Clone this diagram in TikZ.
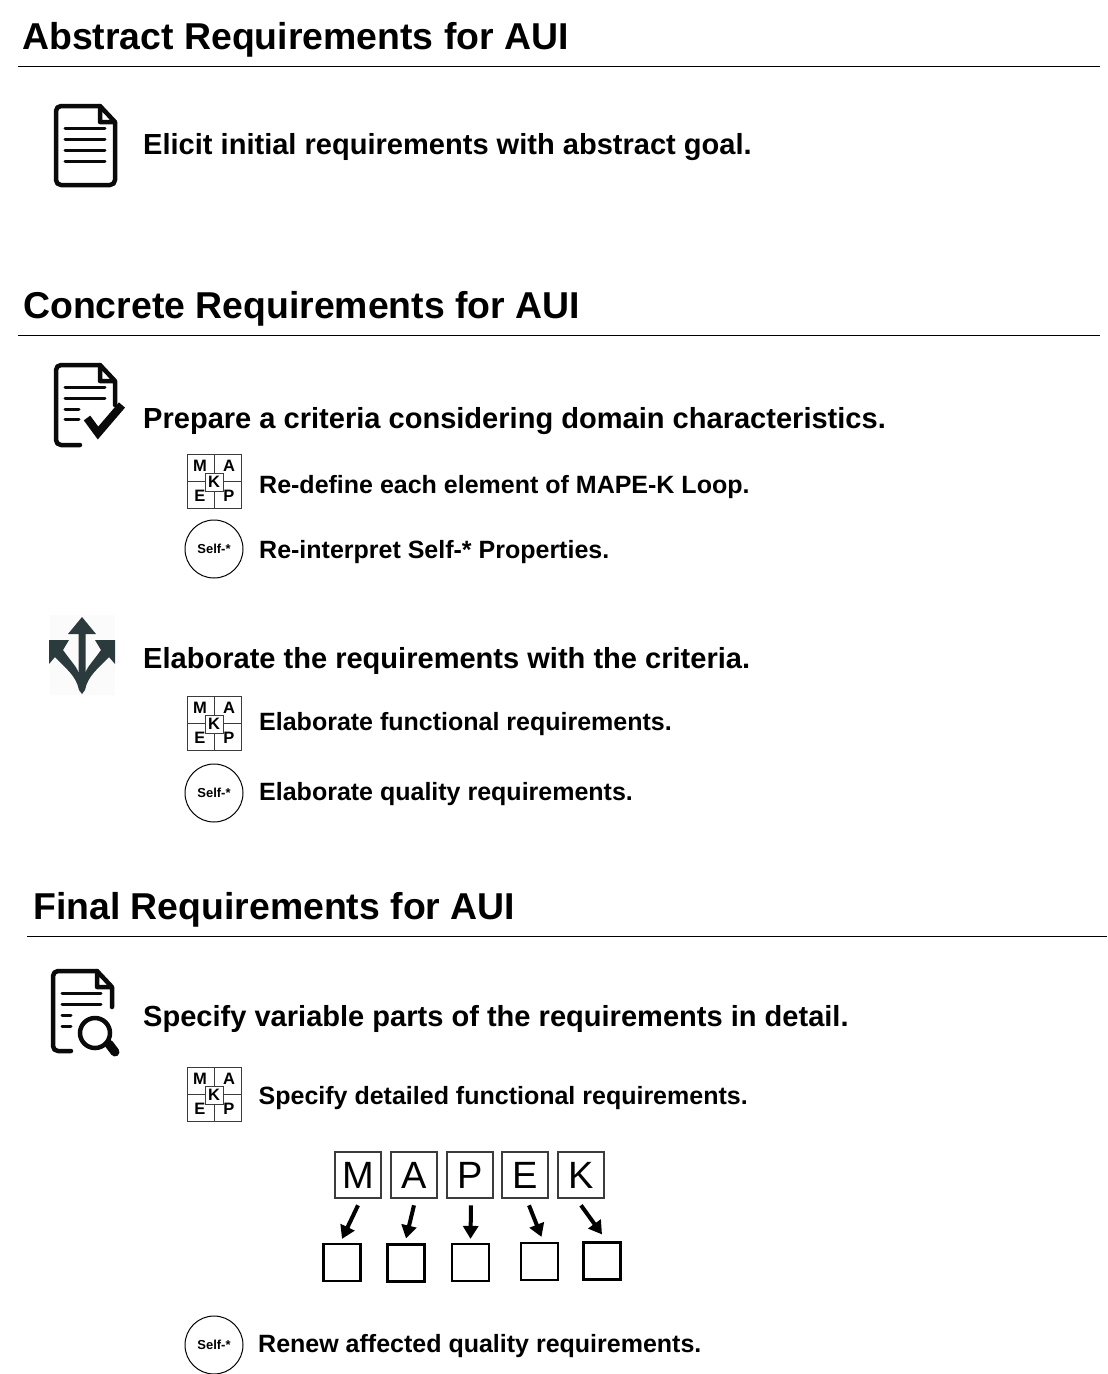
\documentclass[tikz,border=0pt]{standalone}
\usepackage{xcolor}
\usepackage{fontspec}
\setmainfont{Liberation Sans}
\usetikzlibrary{arrows.meta}
\definecolor{iconink}{RGB}{10,10,10}
\definecolor{forkink}{RGB}{43,58,60}
\definecolor{forkback}{RGB}{251,251,251}
\definecolor{gridline}{RGB}{60,60,60}
\tikzset{heading/.style={anchor=base west,inner sep=0pt,font=\fontsize{37.4}{40}\selectfont\bfseries}}
\tikzset{stepline/.style={anchor=base west,inner sep=0pt,font=\fontsize{29.05}{31}\selectfont\bfseries}}
\tikzset{subline/.style={anchor=base west,inner sep=0pt,font=\fontsize{25}{27}\selectfont\bfseries}}
\tikzset{rule/.style={line width=1pt}}
\tikzset{selfmark/.style={circle,draw,line width=1pt,minimum size=58pt,inner sep=0pt,font=\fontsize{13}{14}\selectfont\bfseries}}
\tikzset{letterbox/.style={draw,gridline,text=black,line width=2.6pt,minimum size=46pt,inner sep=0pt,font=\fontsize{38}{40}\selectfont}}
\tikzset{blankbox/.style={draw,line width=2.2pt,minimum size=37pt,inner sep=0pt}}
\tikzset{maparrow/.style={-{Triangle[length=13pt,width=15pt]},line width=4pt}}
\tikzset{iconline/.style={iconink,line width=4.5pt,line cap=round,line join=round}}
\tikzset{gridletter/.style={inner sep=0pt,font=\fontsize{16.5}{18}\selectfont\bfseries}}
%% Small drawing used more than once
\tikzset{mapegrid/.pic={
  \draw[gridline,line width=1pt] (0,0) rectangle (54,54) (0,27) -- (54,27) (27,0) -- (27,54);
  \draw[gridline,line width=1pt,fill=white] (18,19) rectangle (36,37);
  \node[gridletter] (m) at (13,12) {M};
  \node[gridletter] (a) at (42,12) {A};
  \node[gridletter] (e) at (13,42) {E};
  \node[gridletter] (p) at (42,42) {P};
  \node[gridletter] (k) at (27,28) {K};
}}
\begin{document}
\begin{tikzpicture}[x=1pt,y=-1pt]
  \useasboundingbox (0,0) rectangle (1108,1374);

  %% Abstract part
  \draw (22,49) node[heading] (TitleA) {Abstract Requirements for AUI};
  \draw[rule] (18,66.5) -- (1100,66.5);
  \draw[iconline,rounded corners=5pt] (100,106) -- (56,106) -- (56,185) -- (115,185) -- (115,122);
  \draw[iconline] (100,106) -- (115,122) -- (100,122) -- cycle;
  \draw[iconline,line width=3pt] (65,128) -- (105,128) (65,139) -- (105,139) (65,150) -- (105,150) (65,161) -- (105,161);
  \draw (143,154.5) node[stepline] (Elicit) {Elicit initial requirements with abstract goal.};

  %% Concrete part
  \draw (23,318) node[heading] (TitleC) {Concrete Requirements for AUI};
  \draw[rule] (18,335.5) -- (1100,335.5);
  \draw[iconline,rounded corners=5pt] (80,445) -- (56,445) -- (56,365) -- (100,365);
  \draw[iconline] (100,365) -- (115,381) -- (100,381) -- cycle (115,381) -- (115,405);
  \draw[iconline,line width=3pt] (65,387) -- (105,387) (65,398) -- (105,398) (65,409) -- (79,409) (65,419) -- (79,419);
  \draw[iconink,line width=8pt] (87,418) -- (98,433) -- (122,405);
  \draw (143,428) node[stepline] (Prepare) {Prepare a criteria considering domain characteristics.};
  \draw (187,454) pic[name prefix=GridA] {mapegrid};
  \draw (259,493) node[subline] (Redefine) {Re-define each element of MAPE-K Loop.};
  \draw (214,549) node[selfmark] (SelfA) {Self-*};
  \draw (259,558) node[subline] (Reinterpret) {Re-interpret Self-* Properties.};

  \fill[forkback] (50,615) rectangle (115,695);
  \fill[forkink] (82,617) -- (96,634) -- (85.5,634) -- (85.5,680) -- (78.5,680) -- (78.5,634) -- (68,634) -- cycle;
  \fill[forkink] (49,640) -- (69,640) -- (63,650) .. controls (70,660) and (76,666) .. (78.5,672) -- (85.5,672) .. controls (88,666) and (94,660) .. (101,650) -- (95,640) -- (115,640) -- (115,664) -- (109,657) .. controls (99,668) and (88,675) .. (85,690) -- (82,694) -- (79,690) .. controls (76,675) and (65,668) .. (55,657) -- (49,664) -- cycle;
  \draw (143,668) node[stepline] (Elaborate) {Elaborate the requirements with the criteria.};
  \draw (187,696) pic[name prefix=GridB] {mapegrid};
  \draw (259,730) node[subline] (ElabFunc) {Elaborate functional requirements.};
  \draw (214,793) node[selfmark] (SelfB) {Self-*};
  \draw (259,800) node[subline] (ElabQual) {Elaborate quality requirements.};

  %% Final part
  \draw (33,919) node[heading] (TitleF) {Final Requirements for AUI};
  \draw[rule] (27,936.5) -- (1107,936.5);
  \draw[iconline,rounded corners=5pt] (71,1051) -- (53,1051) -- (53,971) -- (97,971);
  \draw[iconline] (97,971) -- (112,987) -- (97,987) -- cycle (112,987) -- (112,1007);
  \draw[iconline,line width=3pt] (62,993) -- (101,993) (62,1004) -- (101,1004) (62,1015) -- (71,1015) (62,1026) -- (71,1026);
  \draw[iconink,line width=4.5pt] (95,1033) circle (15);
  \draw[iconink,line width=9pt,line cap=round] (109,1044) -- (115,1052);
  \draw (143,1026) node[stepline] (Specify) {Specify variable parts of the requirements in detail.};
  \draw (187,1067) pic[name prefix=GridC] {mapegrid};
  \draw (258.5,1104) node[subline] (SpecFunc) {Specify detailed functional requirements.};

  \draw (358,1175) node[letterbox] (BoxM) {M};
  \draw (414,1175) node[letterbox] (BoxA) {A};
  \draw (470,1175) node[letterbox] (BoxP) {P};
  \draw (525,1175) node[letterbox] (BoxE) {E};
  \draw (581,1175) node[letterbox] (BoxK) {K};

  \draw (342,1262.5) node[blankbox] (SlotM) {};
  \draw (406,1263) node[blankbox] (SlotA) {};
  \draw (470.5,1262.5) node[blankbox] (SlotP) {};
  \draw (539.5,1261.5) node[blankbox] (SlotE) {};
  \draw (602,1261) node[blankbox] (SlotK) {};

  \draw[maparrow] ([yshift=-6pt]BoxM.south) -- ([yshift=4pt]SlotM.north);
  \draw[maparrow] ([yshift=-6pt]BoxA.south) -- ([yshift=5pt]SlotA.north);
  \draw[maparrow] ([yshift=-6pt,xshift=1pt]BoxP.south) -- ([yshift=4pt]SlotP.north);
  \draw[maparrow] ([yshift=-6pt,xshift=4pt]BoxE.south) -- ([yshift=5pt,xshift=2pt]SlotE.north);
  \draw[maparrow] ([yshift=-6pt]BoxK.south) -- ([yshift=7pt]SlotK.north);

  \draw (214,1345) node[selfmark] (SelfC) {Self-*};
  \draw (258,1352) node[subline] (Renew) {Renew affected quality requirements.};
\end{tikzpicture}
\end{document}
